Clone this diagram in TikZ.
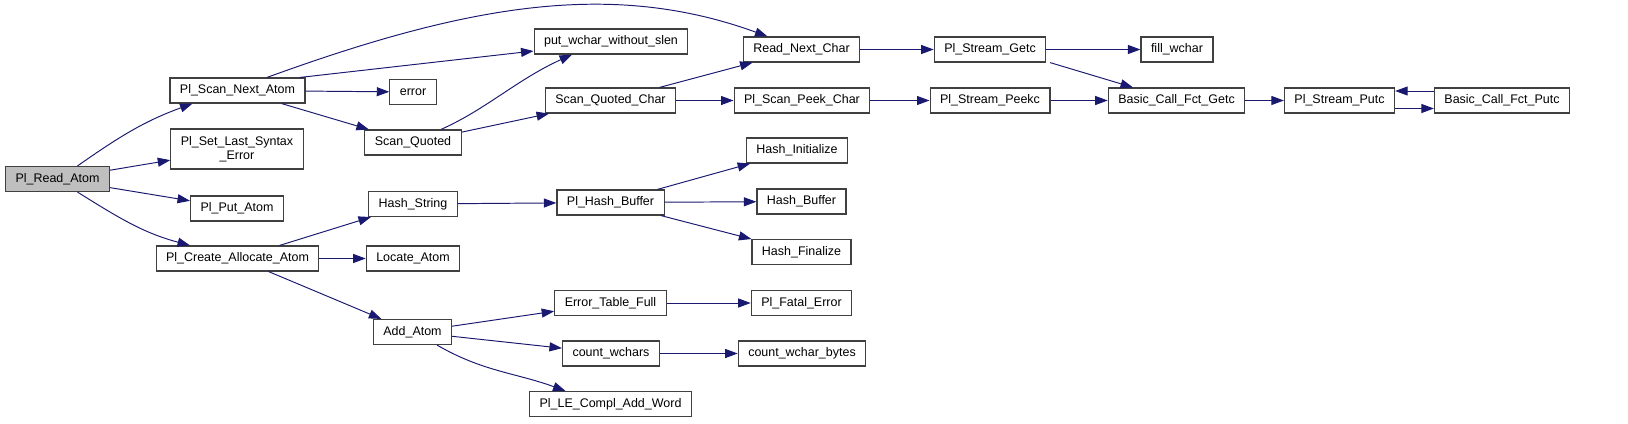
\documentclass[tikz,border=0pt]{standalone}
\usepackage{fontspec}
\setmainfont{Liberation Sans}
\usetikzlibrary{arrows.meta,calc,positioning}
\definecolor{edgeblue}{rgb}{0.10, 0.10, 0.44}
\definecolor{rootgray}{rgb}{0.75, 0.75, 0.75}
\definecolor{boxline}{rgb}{0.25, 0.25, 0.25}
\tikzset{
  func/.style={
    draw=boxline,
    fill=white,
    line width=0.65pt,
    align=center,
    minimum height=0.5cm,
    inner xsep=0.2cm,
    inner ysep=0pt,
    font=\fontsize{7.1}{8.2}\selectfont
  },
  root/.style={
    func,
    fill=rootgray
  },
  arrow/.style={
    -{Triangle[length=2.5mm,width=1.8mm]},
    line width=0.55pt,
    edgeblue
  }
}

\begin{document}
\begin{tikzpicture}[x=0.02cm, y=-0.02cm]
\useasboundingbox (0,0) rectangle (1628,423);

\node[root] (readatom) at (57.5,179) {Pl\_Read\_Atom};

\node[func] (scannext) at (237.5,90.5) {Pl\_Scan\_Next\_Atom};
\node[func, minimum height=0.8cm] (setlast) at (237,149) {Pl\_Set\_Last\_Syntax\\\_Error};
\node[func] (putatom) at (237,208.5) {Pl\_Put\_Atom};
\node[func] (create) at (237.5,258.5) {Pl\_Create\_Allocate\_Atom};

\node[func] (error) at (413,92) {error};
\node[func] (scanquoted) at (413,142.5) {Scan\_Quoted};
\node[func] (hashstring) at (413,204) {Hash\_String};
\node[func] (locate) at (413,258.5) {Locate\_Atom};
\node[func] (addatom) at (412.5,332) {Add\_Atom};

\node[func] (putwchar) at (611,41.5) {put\_wchar\_without\_slen};
\node[func] (scanqchar) at (610.5,100.5) {Scan\_Quoted\_Char};
\node[func] (hashbuffer) at (610.5,202.5) {Pl\_Hash\_Buffer};
\node[func] (errtable) at (610.5,303) {Error\_Table\_Full};
\node[func] (countw) at (611,353.5) {count\_wchars};
\node[func] (lecompl) at (610.5,404) {Pl\_LE\_Compl\_Add\_Word};

\node[func] (readnext) at (801.5,49.5) {Read\_Next\_Char};
\node[func] (peekchar) at (802,100.5) {Pl\_Scan\_Peek\_Char};
\node[func] (hashinit) at (797,150.5) {Hash\_Initialize};
\node[func] (hashbuf) at (801.5,201.5) {Hash\_Buffer};
\node[func] (hashfin) at (801.5,252) {Hash\_Finalize};
\node[func] (fatal) at (801.5,303) {Pl\_Fatal\_Error};
\node[func] (countwb) at (802,353.5) {count\_wchar\_bytes};

\node[func] (getc) at (990,49.5) {Pl\_Stream\_Getc};
\node[func] (peekc) at (990,100.5) {Pl\_Stream\_Peekc};
\node[func] (fillw) at (1177,49.5) {fill\_wchar};
\node[func] (bgetc) at (1176.5,100.5) {Basic\_Call\_Fct\_Getc};
\node[func] (sputc) at (1339.5,100.5) {Pl\_Stream\_Putc};
\node[func] (bputc) at (1502,100.5) {Basic\_Call\_Fct\_Putc};

\draw[arrow] ([xshift=0.4cm]readatom.north) to[out=35, in=200] ([xshift=-0.9cm]scannext.south);
\draw[arrow] (readatom) -- (setlast);
\draw[arrow] (readatom) -- (putatom);
\draw[arrow] ([xshift=0.4cm]readatom.south) to[out=-32, in=165] ([xshift=-0.95cm]create.north);

\draw[arrow] ([xshift=0.59cm]scannext.north) .. controls +(202,-73.5) and +(-155,-56.4) .. ([xshift=-0.68cm]readnext.north);
\draw[arrow] ([xshift=1.25cm]scannext.north) -- ([yshift=-0.19cm]putwchar.west);
\draw[arrow] (scannext) -- (error);
\draw[arrow] (scannext) -- (scanquoted);

\draw[arrow] ([xshift=0.56cm]scanquoted.north) .. controls +(45,-20) and +(-55,25) .. ([xshift=-0.78cm]putwchar.south);
\draw[arrow] (scanquoted) -- (scanqchar);
\draw[arrow] (scanqchar) -- (readnext);
\draw[arrow] (scanqchar) -- (peekchar);
\draw[arrow] (readnext) -- (getc);
\draw[arrow] (peekchar) -- (peekc);
\draw[arrow] (getc) -- (fillw);
\draw[arrow] ([xshift=1.2cm]getc.south) -- ([xshift=-0.87cm]bgetc.north);
\draw[arrow] (peekc) -- (bgetc);
\draw[arrow] (bgetc) -- (sputc);
\draw[arrow] ([yshift=-0.16cm]sputc.east) -- ([yshift=-0.16cm]bputc.west);
\draw[arrow] ([yshift=0.19cm]bputc.west) -- ([yshift=0.19cm]sputc.east);

\draw[arrow] (create) -- (hashstring);
\draw[arrow] (create) -- (locate);
\draw[arrow] (create) -- (addatom);
\draw[arrow] (hashstring) -- (hashbuffer);
\draw[arrow] (hashbuffer) -- (hashinit);
\draw[arrow] (hashbuffer) -- (hashbuf);
\draw[arrow] (hashbuffer) -- (hashfin);

\draw[arrow] (addatom) -- (errtable);
\draw[arrow] (addatom) -- (countw);
\draw[arrow] ([xshift=0.49cm]addatom.south) to[out=-30, in=160] ([xshift=-0.9cm]lecompl.north);
\draw[arrow] (errtable) -- (fatal);
\draw[arrow] (countw) -- (countwb);
\end{tikzpicture}
\end{document}
